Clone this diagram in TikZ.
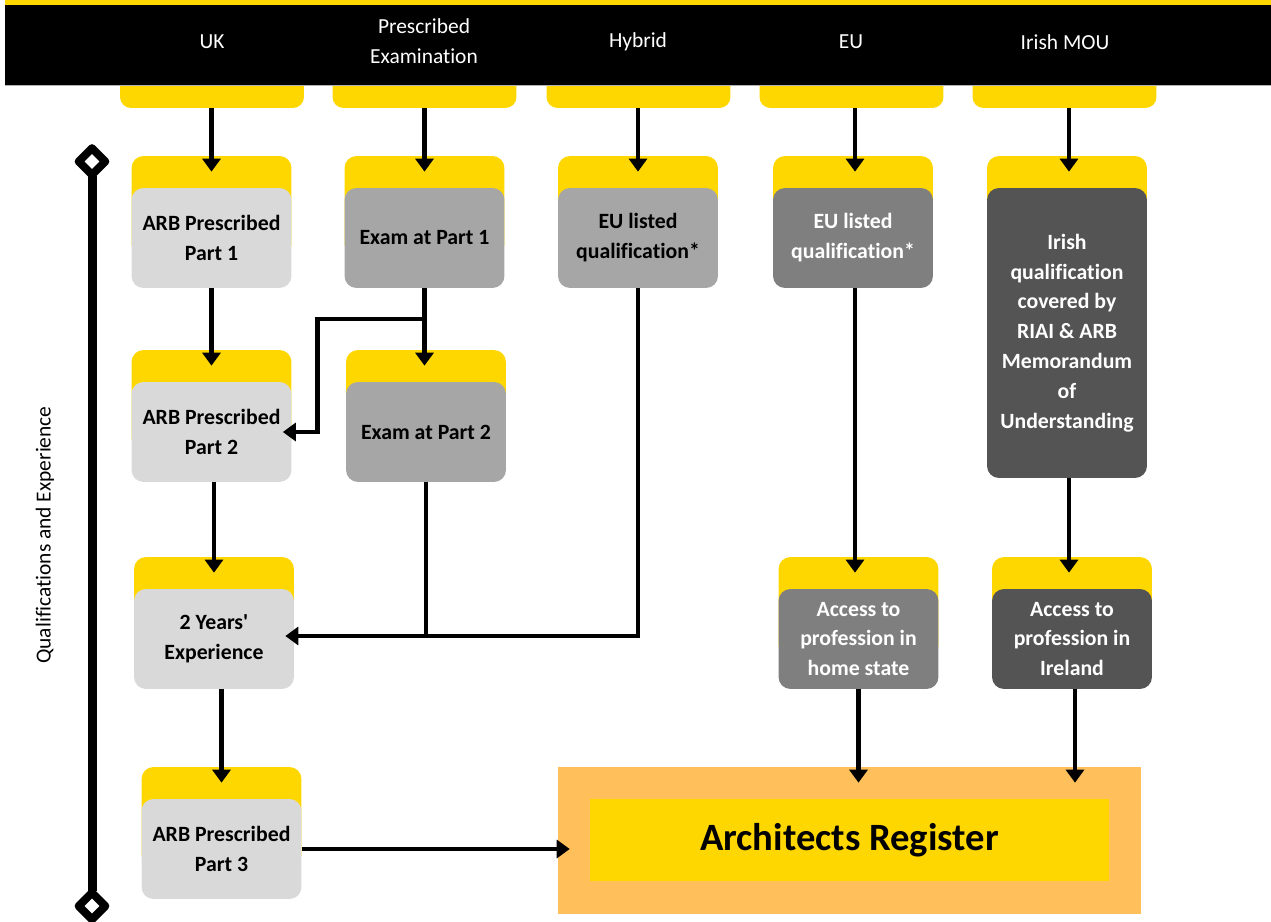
\documentclass[tikz,border=0pt]{standalone}
\usepackage{fontspec}
\setmainfont{Carlito}[Ligatures=NoCommon]
\usetikzlibrary{arrows.meta,shapes.geometric}
\definecolor{tabyellow}{HTML}{FFD700}
\definecolor{regorange}{HTML}{FFBF5A}
\definecolor{greyA}{HTML}{D9D9D9}
\definecolor{greyB}{HTML}{A6A6A6}
\definecolor{greyC}{HTML}{7F7F7F}
\definecolor{greyD}{HTML}{545454}

\begin{document}
\begin{tikzpicture}[x=0.02cm, y=-0.02cm,
  headtab/.style={fill=tabyellow, rounded corners=0.22cm, minimum width=3.68cm, minimum height=0.76cm},
  headlabel/.style={text=white, align=center, font=\fontsize{12.2}{17}\selectfont},
  boxtab/.style={fill=tabyellow, rounded corners=0.24cm, minimum width=3.2cm, minimum height=2cm},
  qbox/.style={rounded corners=0.24cm, minimum width=3.2cm, minimum height=2cm, align=center, inner sep=2pt, font=\fontsize{12.4}{17}\selectfont\bfseries},
  conn/.style={line width=2.6pt},
  arr/.style={conn, -{Triangle[width=0.36cm, length=0.26cm]}},
  arrin/.style={arr, shorten >=0.32cm},
  arrside/.style={arr, shorten >=-0.18cm},
  marker/.style={diamond, draw=black, fill=white, line width=0.16cm, line join=round, minimum size=0.6cm, inner sep=0pt}]
\useasboundingbox (0,0) rectangle (1271,922);

\node[headtab] (uktab) at (212,89) {};
\node[headtab] (pretab) at (424.5,89) {};
\node[headtab] (hybtab) at (638.5,89) {};
\node[headtab] (eutab) at (851.5,89) {};
\node[headtab] (irtab) at (1064.5,89) {};
\fill[tabyellow] (5,0) rectangle (1271,6);
\fill[black] (5,5) rectangle (1271,85);
\draw[gray!60, line width=0.6pt] (5,85.5) -- (1271,85.5);
\node[headlabel] (ukhead) at (212,42) {UK};
\node[headlabel] (prehead) at (424,41) {Prescribed\\Examination};
\node[headlabel] (hybhead) at (638,42) {Hybrid};
\node[headlabel] (euhead) at (851,42) {EU};
\node[headlabel] (irhead) at (1065,42) {Irish MOU};

\node[boxtab] (p1t) at (211.5,206) {};
\node[boxtab] (p2t) at (211.5,400) {};
\node[boxtab] (twot) at (214,607) {};
\node[boxtab] (p3t) at (221.5,817) {};
\node[boxtab] (ex1t) at (424.5,206) {};
\node[boxtab] (ex2t) at (426,400) {};
\node[boxtab] (hybt) at (638,206) {};
\node[boxtab] (eut) at (853,206) {};
\node[boxtab] (homet) at (858.5,607) {};
\node[boxtab, minimum height=5.8cm] (irisht) at (1067,301) {};
\node[boxtab] (irlt) at (1072,607) {};

\node[qbox, fill=greyA] (p1) at (211.5,238) {ARB Prescribed\\Part 1};
\node[qbox, fill=greyA] (p2) at (211.5,432) {ARB Prescribed\\Part 2};
\node[qbox, fill=greyA] (twoyrs) at (214,639) {2 Years\textquotesingle\\Experience};
\node[qbox, fill=greyA] (p3) at (221.5,849) {ARB Prescribed\\Part 3};
\node[qbox, fill=greyB] (ex1) at (424.5,238) {Exam at Part 1};
\node[qbox, fill=greyB] (ex2) at (426,432) {Exam at Part 2};
\node[qbox, fill=greyB] (hyb) at (638,238) {EU listed\\qualification*};
\node[qbox, fill=greyC, text=white] (eu) at (853,238) {EU listed\\qualification*};
\node[qbox, fill=greyC, text=white] (home) at (858.5,639) {Access to\\profession in\\home state};
\node[qbox, fill=greyD, text=white, minimum height=5.8cm] (irish) at (1067,333) {Irish\\qualification\\covered by\\RIAI \& ARB\\Memorandum\\of\\Understanding};
\node[qbox, fill=greyD, text=white] (irl) at (1072,639) {Access to\\profession in\\Ireland};

\node[fill=regorange, minimum width=11.66cm, minimum height=2.94cm] (reg) at (849.5,840.5) {};
\node[fill=tabyellow, minimum width=10.38cm, minimum height=1.64cm, font=\fontsize{22}{26}\selectfont\bfseries] (reginner) at (849.5,840) {Architects Register};

\draw[arrin] (p1.north |- uktab.south) -- (p1.north);
\draw[arrin] (ex1.north |- pretab.south) -- (ex1.north);
\draw[arrin] (hyb.north |- hybtab.south) -- (hyb.north);
\draw[arrin] ([xshift=0.04cm]eu.north |- eutab.south) -- ([xshift=0.04cm]eu.north);
\draw[arrin] ([xshift=0.04cm]irish.north |- irtab.south) -- ([xshift=0.04cm]irish.north);

\draw[arrin] (p1.south) -- (p2.north);
\draw[arrin] (twoyrs.north |- p2.south) -- (twoyrs.north);
\draw[arrin] (p3.north |- twoyrs.south) -- (p3.north);
\draw[arrin] (ex1.south) -- (ex1.south |- ex2.north);
\coordinate (split) at (ex1.south |- 0,319);
\draw[arrside] (split) -- ++(-107,0) |- (p2.east);
\draw[conn] (ex2.south) -- (ex2.south |- 0,636);
\draw[arrside] (hyb.south) |- ([yshift=0.06cm]twoyrs.east);
\draw[arrin] ([xshift=0.04cm]eu.south) -- ([xshift=0.04cm]eu.south |- home.north);
\draw[arrin] ([xshift=0.04cm]irish.south) -- ([xshift=0.04cm]irish.south |- irl.north);
\draw[arr, shorten >=-0.32cm] (home.south) -- (home.south |- reg.north);
\draw[arr, shorten >=-0.32cm] ([xshift=0.06cm]irl.south) -- ([xshift=0.06cm]irl.south |- reg.north);
\draw[arr, shorten >=-0.24cm] (p3.east) -- (p3.east -| reg.west);

\node[marker] (tltop) at (92,161.5) {};
\node[marker] (tlbot) at (92,906) {};
\draw[line width=0.18cm, shorten <=-0.08cm, shorten >=-0.08cm] (tltop) -- (tlbot);
\node[rotate=90, font=\fontsize{12.2}{15}\selectfont] (tllabel) at (45,535) {Qualifications and Experience};
\end{tikzpicture}
\end{document}
